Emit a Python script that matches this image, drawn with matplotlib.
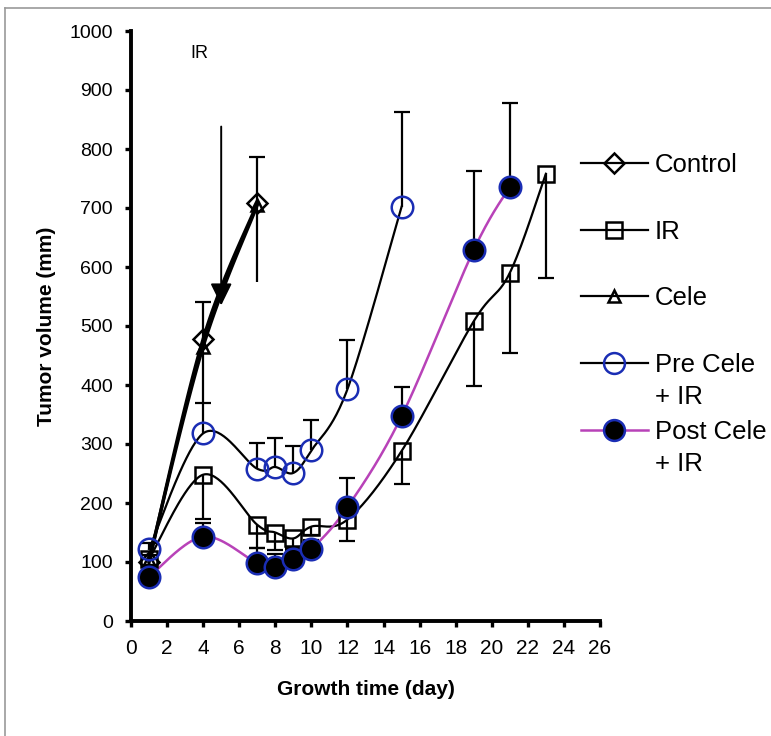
import numpy as np
import matplotlib
matplotlib.use('Agg')
import matplotlib.pyplot as plt
from matplotlib.lines import Line2D
from matplotlib.text import Annotation

# ---------------- data ----------------
days_ctrl = [1, 4, 7]
control = [100, 478, 708]
control_up = [12, 62, 78]

days_cele = [1, 4, 7]
cele = [104, 465, 705]
cele_dn = [10, 95, 130]

days_ir = [1, 4, 7, 8, 9, 10, 12, 15, 19, 21, 23]
ir = [105, 248, 163, 150, 140, 160, 172, 288, 508, 590, 758]
ir_dn = [10, 75, 39, 30, 20, 15, 37, 56, 110, 136, 177]

days_pre = [1, 4, 7, 8, 9, 10, 12, 15]
pre = [122, 318, 258, 261, 251, 289, 393, 702]
pre_up = [10, 52, 44, 50, 46, 51, 83, 161]

days_post = [1, 4, 7, 8, 9, 10, 12, 15, 19, 21]
post = [75, 143, 98, 91, 105, 122, 193, 347, 629, 736]
post_up = [8, 23, 26, 22, 18, 15, 50, 50, 134, 142]

labels = ["Control", "IR", "Cele", "Pre Cele", "Post Cele"]
second_line = "+ IR"

arrow_day, arrow_top, arrow_tip = 5, 838, 535
ir_text_day, ir_text_val = 3.8, 962

xticks = list(range(0, 27, 2))
yticks = list(range(0, 1001, 100))

BLUE = "#1a2db4"
MAGENTA = "#b842b8"
NARROW = ["Liberation Sans Narrow", "Liberation Sans", "DejaVu Sans"]
REG = ["Liberation Sans", "DejaVu Sans"]


def smooth(x, y, n=40):
    """Excel-like smoothed curve (Catmull-Rom Bezier) through the points."""
    x = np.asarray(x, float)
    y = np.asarray(y, float)
    P = np.column_stack([x, y])
    Pe = np.vstack([P[0], P, P[-1]])
    out = []
    t = np.linspace(0, 1, n)[:, None]
    for i in range(len(P) - 1):
        p0, p1, p2, p3 = Pe[i], Pe[i + 1], Pe[i + 2], Pe[i + 3]
        c1 = p1 + (p2 - p0) / 6.0
        c2 = p2 - (p3 - p1) / 6.0
        seg = ((1 - t) ** 3) * p1 + 3 * ((1 - t) ** 2) * t * c1 + 3 * (1 - t) * t ** 2 * c2 + t ** 3 * p2
        out.append(seg if i == 0 else seg[1:])
    s = np.vstack(out)
    return s[:, 0], s[:, 1]


def err(ax, x, y, lo, hi, capsize=6, show_lo_cap=True, show_hi_cap=True):
    res = ax.errorbar(x, y, yerr=[lo, hi], fmt='none', ecolor='black',
                      elinewidth=1.6, capsize=capsize, capthick=1.6, zorder=2)
    caps = res[1]
    if len(caps) == 2:
        caps[0].set_visible(show_lo_cap)
        caps[1].set_visible(show_hi_cap)
    return res


W, H = 771, 736
fig = plt.figure(figsize=(W / 100, H / 100), dpi=100)
ax = fig.add_axes([131 / W, 1 - 621 / H, (600 - 131) / W, (621 - 31) / H])

zeros = lambda a: [0] * len(a)

# error bars
err(ax, days_ctrl, control, zeros(control), control_up, show_lo_cap=False)
err(ax, days_cele, cele, cele_dn, zeros(cele), capsize=0)
err(ax, days_ir, ir, ir_dn, zeros(ir), show_hi_cap=False)
err(ax, days_pre, pre, zeros(pre), pre_up, show_lo_cap=False)
err(ax, days_post, post, zeros(post), post_up, show_lo_cap=False)

# lines (smoothed)
sx, sy = smooth(days_ctrl, control)
ax.plot(sx, sy, color='black', lw=2.4, zorder=3)
sx, sy = smooth(days_cele, cele)
ax.plot(sx, sy, color='black', lw=2.4, zorder=3)
sx, sy = smooth(days_ir, ir)
ax.plot(sx, sy, color='black', lw=1.6, zorder=3)
sx, sy = smooth(days_pre, pre)
ax.plot(sx, sy, color='black', lw=1.6, zorder=3)
sx, sy = smooth(days_post, post)
ax.plot(sx, sy, color=MAGENTA, lw=1.8, zorder=3)

# markers
ax.plot(days_ctrl, control, ls='none', marker='D', ms=10, mfc='none', mec='black', mew=1.8, zorder=4)
ax.plot(days_cele, cele, ls='none', marker='^', ms=9, mfc='none', mec='black', mew=1.8, zorder=4)
ax.plot(days_ir, ir, ls='none', marker='s', ms=12, mfc='none', mec='black', mew=1.8, zorder=4)
ax.plot(days_pre, pre, ls='none', marker='o', ms=15.5, mfc='none', mec=BLUE, mew=1.8, zorder=5)
ax.plot(days_post, post, ls='none', marker='o', ms=15.5, mfc='black', mec=BLUE, mew=1.8, zorder=6)

# IR annotation arrow
ax.annotate('', xy=(arrow_day, arrow_tip), xytext=(arrow_day, arrow_top),
            arrowprops=dict(arrowstyle='-|>,head_length=0.45,head_width=0.22',
                            color='black', lw=1.4, mutation_scale=30,
                            shrinkA=0, shrinkB=0), zorder=7)
ax.text(ir_text_day, ir_text_val, "IR", fontsize=13, family=REG, ha='center', va='center')

# axes styling
ax.set_xlim(0, 26)
ax.set_ylim(0, 1000)
ax.set_xticks(xticks)
ax.set_yticks(yticks)
for s in ['top', 'right']:
    ax.spines[s].set_visible(False)
for s in ['left', 'bottom']:
    ax.spines[s].set_linewidth(2.8)
ax.tick_params(direction='out', length=4, width=2.4, pad=9)
for lab in ax.get_xticklabels():
    lab.set_fontfamily(NARROW)
    lab.set_fontsize(15)
for lab in ax.get_yticklabels():
    lab.set_fontfamily(REG)
    lab.set_fontsize(14)
ax.set_xlabel("Growth time (day)", fontsize=15, fontweight='bold', family=NARROW, labelpad=16)
ax.set_ylabel("Tumor volume (mm)", fontsize=15, fontweight='bold', family=NARROW, labelpad=10)

# legend
handles = [
    Line2D([], [], color='black', lw=1.6, marker='D', ms=10, mfc='none', mec='black', mew=1.8),
    Line2D([], [], color='black', lw=1.6, marker='s', ms=12, mfc='none', mec='black', mew=1.8),
    Line2D([], [], color='black', lw=1.6, marker='^', ms=9, mfc='none', mec='black', mew=1.8),
    Line2D([], [], color='black', lw=1.6, marker='o', ms=15, mfc='none', mec=BLUE, mew=1.8),
    Line2D([], [], color=MAGENTA, lw=1.8, marker='o', ms=15, mfc='black', mec=BLUE, mew=1.8),
]
leg = fig.legend(handles, labels, loc='upper left', bbox_to_anchor=(581 / W, 1 - 153 / H),
                 frameon=False, borderpad=0, borderaxespad=0, handlelength=2.6,
                 handletextpad=0.27, labelspacing=1.66,
                 prop={'family': REG, 'size': 18.5})
leg.set_zorder(5)
texts = leg.get_texts()
for idx in (3, 4):
    ann = Annotation(second_line, xy=(0, 0), xycoords=texts[idx], xytext=(0, -23),
                     textcoords='offset points', fontsize=18.5, family=REG,
                     va='bottom', ha='left', annotation_clip=False)
    ann.set_zorder(10)
    fig.add_artist(ann)

# grey frame
fig.add_artist(Line2D([5 / W, 5 / W], [0, 1 - 8 / H], color='#9a9a9a', lw=1.2))
fig.add_artist(Line2D([5 / W, 1], [1 - 8 / H, 1 - 8 / H], color='#9a9a9a', lw=1.2))

fig.savefig('out.png', dpi=100)
